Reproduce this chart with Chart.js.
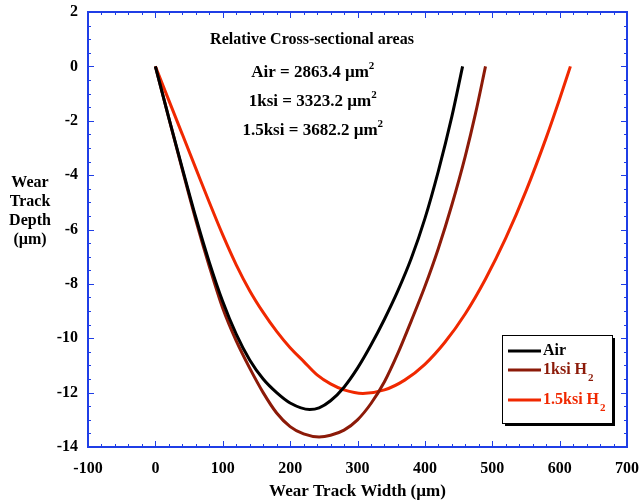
<!DOCTYPE html>
<html>
<head>
<meta charset="utf-8">
<script src="https://cdn.jsdelivr.net/npm/chart.js@4.4.1/dist/chart.umd.min.js"></script>
<style>
  body { margin: 0; background: #fff; }
  canvas { display: block; }
</style>
</head>
<body>
<canvas id="Courbes" width="641" height="504"></canvas>
<script>
// profils (largeur en µm, profondeur en µm)
const airX = [0, 20, 40, 60, 80, 100, 120, 140, 160, 180, 200, 229, 243, 260, 280, 300, 320, 340, 360, 380, 400, 420, 440, 456];
const airY = [0, -1.9, -3.75, -5.55, -7.2, -8.65, -9.85, -10.8, -11.5, -12.0, -12.38, -12.62, -12.56, -12.3, -11.8, -11.1, -10.25, -9.3, -8.25, -7.05, -5.6, -3.85, -1.85, 0];

const ksi1X = [0, 20, 40, 60, 80, 100, 120, 140, 160, 180, 200, 220, 243, 260, 280, 300, 320, 340, 360, 380, 400, 420, 440, 460, 475, 490];
const ksi1Y = [0, -1.9, -3.8, -5.65, -7.35, -8.9, -10.1, -11.1, -12.0, -12.75, -13.25, -13.52, -13.63, -13.57, -13.38, -13.0, -12.4, -11.6, -10.55, -9.35, -8.1, -6.7, -5.1, -3.3, -1.75, 0];

const ksi15X = [0, 20, 40, 60, 80, 100, 120, 140, 160, 180, 200, 220, 240, 260, 280, 308, 340, 370, 400, 430, 460, 490, 520, 550, 580, 600, 616];
const ksi15Y = [0, -1.25, -2.5, -3.75, -5.0, -6.2, -7.3, -8.25, -9.05, -9.75, -10.35, -10.85, -11.35, -11.68, -11.9, -12.03, -11.9, -11.54, -10.96, -10.14, -9.1, -7.82, -6.32, -4.59, -2.63, -1.2, 0];

const seriesNames = ["Air", "1ksi H", "1.5ksi H"];
const seriesColors = ["#000000", "#8c1a08", "#f02800"];
const areaLabels = ["Air = 2863.4 µm", "1ksi = 3323.2 µm", "1.5ksi = 3682.2 µm"];

const xTicks = { min: -100, max: 700, step: 100, minor: 20 };
const yTicks = { min: -14, max: 2, step: 2, minor: 0.5 };

const axisBlue = "#1f3ee6";
const serif = "'Liberation Serif', 'Times New Roman', serif";

function toPoints(xs, ys) {
  return xs.map((x, i) => ({ x: x, y: ys[i] }));
}

// cadre bleu avec graduations vers l'intérieur sur les 4 côtés
const boxTicks = {
  id: "boxTicks",
  afterDraw(chart) {
    const c = chart.ctx;
    const a = chart.chartArea;
    const sx = chart.scales.x;
    const sy = chart.scales.y;
    c.save();
    c.strokeStyle = axisBlue;
    c.lineWidth = 1;
    c.beginPath();
    let n = Math.round((xTicks.max - xTicks.min) / xTicks.minor);
    for (let i = 0; i <= n; i++) {
      const v = xTicks.min + i * xTicks.minor;
      const px = Math.round(sx.getPixelForValue(v)) + 0.5;
      const len = v % xTicks.step === 0 ? 6 : 3;
      c.moveTo(px, a.bottom);
      c.lineTo(px, a.bottom - len);
      c.moveTo(px, a.top);
      c.lineTo(px, a.top + len);
    }
    n = Math.round((yTicks.max - yTicks.min) / yTicks.minor);
    for (let i = 0; i <= n; i++) {
      const v = yTicks.min + i * yTicks.minor;
      const py = Math.round(sy.getPixelForValue(v)) + 0.5;
      const len = v % yTicks.step === 0 ? 6 : 3;
      c.moveTo(a.left, py);
      c.lineTo(a.left + len, py);
      c.moveTo(a.right, py);
      c.lineTo(a.right - len, py);
    }
    c.stroke();
    c.lineWidth = 2;
    c.strokeRect(a.left, a.top, a.right - a.left, a.bottom - a.top);
    c.restore();
  },
};

// textes : titre de l'axe y, aires, légende
const annotations = {
  id: "annotations",
  afterDraw(chart) {
    const c = chart.ctx;
    c.save();
    c.fillStyle = "#000";
    c.font = "bold 16px " + serif;
    c.textBaseline = "middle";
    c.textAlign = "center";
    ["Wear", "Track", "Depth", "(µm)"].forEach((t, i) => {
      c.fillText(t, 30, 183 + i * 19);
    });

    c.fillText("Relative Cross-sectional areas", 312, 40);
    c.textAlign = "left";
    const rows = [73, 102, 131];
    areaLabels.forEach((t, i) => {
      c.font = "bold 17px " + serif;
      const w = c.measureText(t).width;
      const x0 = 313 - (w + 6) / 2;
      c.fillText(t, x0, rows[i]);
      c.font = "bold 11px " + serif;
      c.fillText("2", x0 + w, rows[i] - 7);
    });

    // légende
    const lx = 502, ly = 335, lw = 110, lh = 88;
    c.fillStyle = "#000";
    c.fillRect(lx + 3, ly + 3, lw, lh);
    c.fillStyle = "#fff";
    c.fillRect(lx, ly, lw, lh);
    c.strokeStyle = "#000";
    c.lineWidth = 1;
    c.strokeRect(lx + 0.5, ly + 0.5, lw, lh);
    const ry = [351, 370, 400];
    seriesNames.forEach((t, i) => {
      c.strokeStyle = seriesColors[i];
      c.lineWidth = 3;
      c.beginPath();
      c.moveTo(508, ry[i]);
      c.lineTo(541, ry[i]);
      c.stroke();
      c.fillStyle = seriesColors[i];
      c.font = "bold 16px " + serif;
      c.fillText(t, 543, ry[i]);
      if (i > 0) {
        const w = c.measureText(t).width;
        c.font = "bold 11px " + serif;
        c.fillText("2", 543 + w + 1, ry[i] + 8);
      }
    });
    c.restore();
  },
};

let ctx = document.getElementById("Courbes").getContext("2d");
let Courbes = new Chart(ctx, {
  type: "scatter",
  data: {
    datasets: [
      { label: seriesNames[0], data: toPoints(airX, airY) },
      { label: seriesNames[1], data: toPoints(ksi1X, ksi1Y) },
      { label: seriesNames[2], data: toPoints(ksi15X, ksi15Y) },
    ].map((d, i) => ({
      ...d,
      showLine: true,
      borderColor: seriesColors[i],
      backgroundColor: seriesColors[i],
      borderWidth: 3,
      pointRadius: 0,
      cubicInterpolationMode: "monotone",
    })),
  },
  options: {
    responsive: false,
    animation: false,
    layout: { padding: { top: 12, right: 14, bottom: 0, left: 0 } },
    plugins: {
      legend: { display: false },
      tooltip: { enabled: false },
    },
    scales: {
      x: {
        type: "linear",
        min: xTicks.min,
        max: xTicks.max,
        afterFit: (s) => {
          s.height = 57;
          s.paddingLeft = 0;
          s.paddingRight = 0;
        },
        grid: { display: false, drawTicks: false },
        border: { display: false },
        ticks: {
          stepSize: xTicks.step,
          padding: 12,
          color: "#000",
          font: { family: serif, size: 16, weight: "bold" },
        },
        title: {
          display: true,
          text: "Wear Track Width (µm)",
          color: "#000",
          padding: { top: 0, bottom: 2 },
          font: { family: serif, size: 17, weight: "bold" },
        },
      },
      y: {
        type: "linear",
        min: yTicks.min,
        max: yTicks.max,
        afterFit: (s) => {
          s.width = 88;
          s.paddingTop = 0;
          s.paddingBottom = 0;
        },
        grid: { display: false, drawTicks: false },
        border: { display: false },
        ticks: {
          stepSize: yTicks.step,
          padding: 10,
          color: "#000",
          font: { family: serif, size: 16, weight: "bold" },
        },
      },
    },
  },
  plugins: [boxTicks, annotations],
});
</script>
</body>
</html>
